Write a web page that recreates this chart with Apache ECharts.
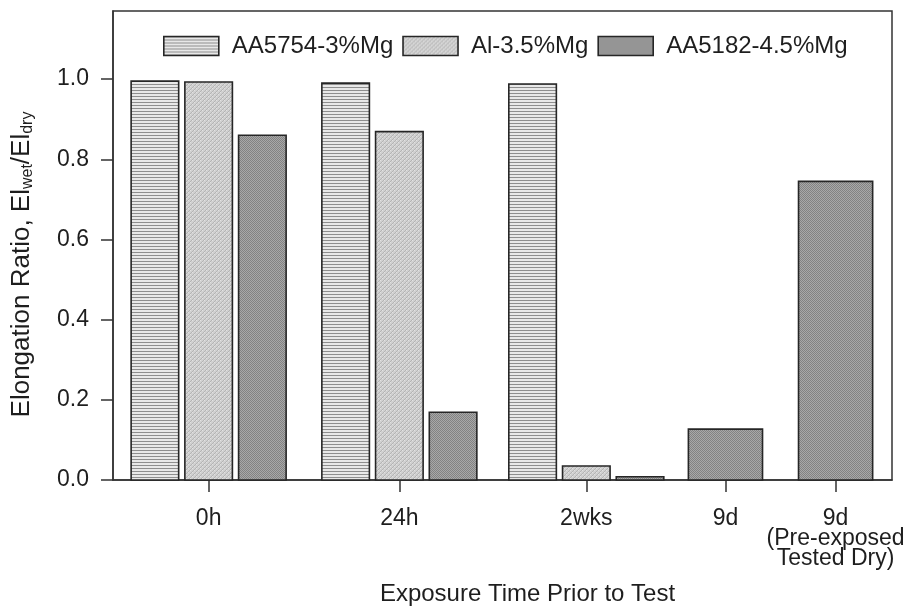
<!DOCTYPE html>
<html>
<head>
<meta charset="utf-8">
<script src="https://cdn.jsdelivr.net/npm/echarts@6/dist/echarts.min.js"></script>
<style>
  html, body { margin: 0; padding: 0; background: #ffffff; }
  #chart { width: 915px; height: 607px; }
</style>
</head>
<body>
<div id="chart"></div>
<script>
// ---- data ----
const categories = ['0h', '24h', '2wks', '9d', '9d\n(Pre-exposed\nTested Dry)'];
// position of each category along the (hidden-scale) x axis, in bar-pitch units
const categoryPositions = [1.78, 5.33, 8.81, 11.40, 13.45];
const seriesNames = ['AA5754-3%Mg', 'Al-3.5%Mg', 'AA5182-4.5%Mg'];
const aa5754 = [0.995, 0.990, 0.988, null, null];
const al35 = [0.993, 0.869, 0.035, null, null];
const aa5182 = [0.860, 0.169, 0.008, 0.127, 0.745];
const yTicks = [0, 0.2, 0.4, 0.6, 0.8, 1.0];

// ---- patterns ----
function makePattern(w, h, draw) {
  const c = document.createElement('canvas');
  c.width = w; c.height = h;
  const ctx = c.getContext('2d');
  draw(ctx);
  return { image: c, repeat: 'repeat' };
}
const patHoriz = makePattern(4, 3, ctx => {
  ctx.fillStyle = '#e8e8e8'; ctx.fillRect(0, 0, 4, 3);
  ctx.fillStyle = '#8e8e8e'; ctx.fillRect(0, 0, 4, 1);
});
const patLight = makePattern(4, 4, ctx => {
  ctx.fillStyle = '#d0d0d0'; ctx.fillRect(0, 0, 4, 4);
  ctx.fillStyle = '#b4b4b4';
  for (let i = 0; i < 4; i++) ctx.fillRect(i, 3 - i, 1, 1);
  ctx.fillStyle = '#e2e2e2';
  ctx.fillRect(0, 0, 1, 1); ctx.fillRect(2, 2, 1, 1);
});
const patDark = makePattern(2, 2, ctx => {
  ctx.fillStyle = '#a8a8a8'; ctx.fillRect(0, 0, 2, 2);
  ctx.fillStyle = '#828282'; ctx.fillRect(0, 0, 1, 1); ctx.fillRect(1, 1, 1, 1);
});
const patterns = [patHoriz, patLight, patDark];
const allValues = [aa5754, al35, aa5182];

// which series are present in each category (for grouping)
const present = categories.map((c, i) => allValues.map((arr, s) => arr[i] != null ? s : -1).filter(s => s >= 0));

const FONT = '"Liberation Sans", Arial, sans-serif';
const TXT = '#1e1e1e';
const EDGE = '#262626';

function buildSeries(s) {
  const data = [];
  allValues[s].forEach((v, i) => { if (v != null) data.push([categoryPositions[i], v, i]); });
  return {
    type: 'custom',
    name: seriesNames[s],
    itemStyle: { color: patterns[s], borderColor: EDGE, borderWidth: 1.6 },
    encode: { x: 0, y: 1 },
    data: data,
    renderItem: function (params, api) {
      const x = api.value(0), v = api.value(1), cat = api.value(2);
      const members = present[cat];
      const n = members.length;
      const slot = members.indexOf(s);
      const w = n === 1 ? 1.38 : 0.885;
      const off = n === 1 ? 0 : (slot - (n - 1) / 2) * 1.0;
      const p0 = api.coord([x + off - w / 2, v]);
      const p1 = api.coord([x + off + w / 2, 0]);
      return {
        type: 'rect',
        shape: { x: p0[0], y: p0[1], width: p1[0] - p0[0], height: p1[1] - p0[1] },
        style: { fill: patterns[s], stroke: EDGE, lineWidth: 1.6 }
      };
    }
  };
}

const chart = echarts.init(document.getElementById('chart'), null, { renderer: 'canvas' });
chart.setOption({
  animation: false,
  backgroundColor: '#ffffff',
  textStyle: { fontFamily: FONT },
  grid: {
    left: 113, right: 23, top: 11, bottom: 127, containLabel: false, outerBoundsMode: 'none',
    show: true, borderColor: '#333', borderWidth: 1.5, backgroundColor: 'transparent'
  },
  legend: {
    left: 158, top: 29,
    itemWidth: 55, itemHeight: 19, itemGap: 9,
    icon: 'rect',
    textStyle: { fontSize: 24, color: TXT, fontFamily: FONT, padding: [0, 0, 0, 8] },
    data: seriesNames.map((n, s) => ({ name: n, itemStyle: { color: patterns[s], borderColor: EDGE, borderWidth: 1.6 } }))
  },
  xAxis: {
    type: 'value', min: 0, max: 14.5,
    splitLine: { show: false },
    axisLine: { show: true, lineStyle: { color: '#333', width: 1.5 } },
    axisTick: { show: true, length: 12, lineStyle: { color: '#333', width: 1.5 }, customValues: categoryPositions },
    axisLabel: {
      show: true, customValues: categoryPositions, margin: 29,
      fontSize: 23, color: TXT, fontFamily: FONT, lineHeight: 20, verticalAlign: 'top',
      formatter: function (val) {
        const i = categoryPositions.findIndex(p => Math.abs(p - val) < 1e-6);
        return i >= 0 ? categories[i] : '';
      }
    },
    name: 'Exposure Time Prior to Test', nameLocation: 'middle', nameGap: 102,
    nameTextStyle: { fontSize: 24, color: TXT, fontFamily: FONT, padding: [0, 0, 0, 50] }
  },
  yAxis: {
    type: 'value', min: 0, max: 1.17,
    splitLine: { show: false },
    axisLine: { show: true, lineStyle: { color: '#333', width: 1.5 } },
    axisTick: { show: true, length: 12, lineStyle: { color: '#333', width: 1.5 }, customValues: yTicks },
    axisLabel: { customValues: yTicks, margin: 24, fontSize: 23, color: TXT, fontFamily: FONT, formatter: v => v.toFixed(1) },
    name: '{n|Elongation Ratio, El}{s|wet}{n|/El}{s|dry}', nameLocation: 'middle', nameGap: 77,
    nameTextStyle: {
      fontSize: 26, color: TXT, fontFamily: FONT, padding: [0, 38, 0, 0],
      rich: {
        n: { fontSize: 26, color: TXT, fontFamily: FONT },
        s: { fontSize: 16, color: TXT, fontFamily: FONT, verticalAlign: 'bottom', padding: [12, 0, 0, 0] }
      }
    }
  },
  series: [buildSeries(0), buildSeries(1), buildSeries(2)]
});
</script>
</body>
</html>
